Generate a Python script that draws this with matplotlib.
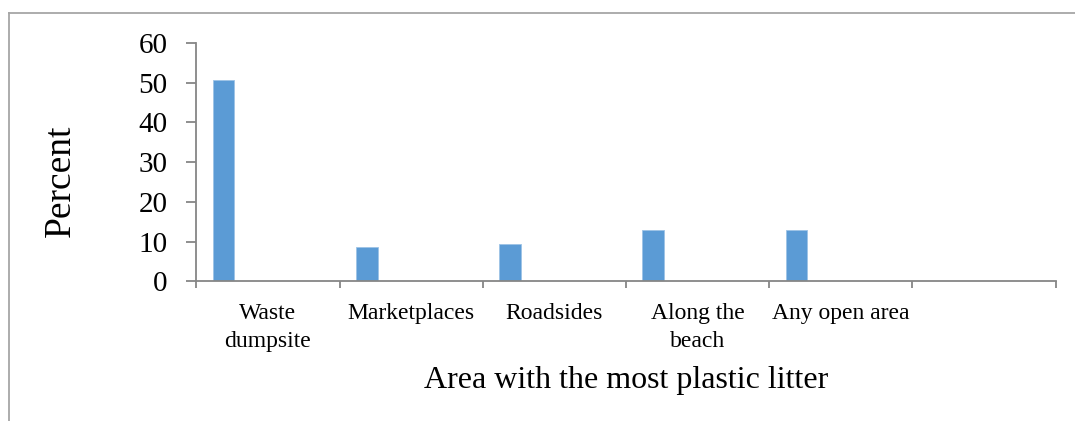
import matplotlib
matplotlib.use("Agg")
import matplotlib.pyplot as plt
from matplotlib.lines import Line2D
import numpy as np

categories = ["Waste\ndumpsite", "Marketplaces", "Roadsides", "Along the\nbeach", "Any open area"]
values = [50.7, 8.6, 9.3, 12.8, 12.8]
n_slots = 6
y_ticks = [0, 10, 20, 30, 40, 50, 60]

plt.rcParams['font.family'] = ['Liberation Serif', 'DejaVu Serif']

fig = plt.figure(figsize=(10.75, 4.21), dpi=100)
ax = fig.add_axes([196.3/1075, 1 - 281.3/421, (1055.7-196.3)/1075, (281.3-43)/421])

x = np.arange(len(categories))
bar_w = 0.151
ax.bar(x + 0.115, values, width=bar_w, align='edge', color='#5B9BD5',
       edgecolor='#9DC3E6', linewidth=0.6)

ax.set_xlim(0, n_slots)
ax.set_ylim(0, 60)
ax.set_yticks(y_ticks)
ax.set_xticks(np.arange(n_slots + 1))
ax.set_xticklabels([])
ax.set_xticks(x + 0.5, minor=True)
ax.set_xticklabels(categories, minor=True, fontsize=17, linespacing=1.42)

spine_c = '#868686'
for s in ['top', 'right']:
    ax.spines[s].set_visible(False)
for s in ['left', 'bottom']:
    ax.spines[s].set_color(spine_c)
    ax.spines[s].set_linewidth(1.3)

ax.tick_params(axis='y', direction='out', length=7.2, width=1.3, color=spine_c,
               labelsize=21, pad=13.5)
ax.tick_params(axis='x', which='major', direction='out', length=5, width=1.3, color=spine_c)
ax.tick_params(axis='x', which='minor', length=0, pad=15.5)

ax.set_ylabel("Percent", fontsize=27, ha='center', va='center')
ax.yaxis.set_label_coords((61 - 196.3)/859.4, (281.3 - 181)/238.3)
ax.set_xlabel("Area with the most plastic litter", fontsize=23, ha='center', va='baseline')
ax.xaxis.set_label_coords(0.5, (281.3 - 388)/238.3)

# outer chart frame (top and left edges visible)
fc = '#A6A6A6'
fig.add_artist(Line2D([9.3/1075, 1], [1 - 12.7/421, 1 - 12.7/421], color=fc, lw=1.3,
                      transform=fig.transFigure))
fig.add_artist(Line2D([9.3/1075, 9.3/1075], [0, 1 - 12.7/421], color=fc, lw=1.3,
                      transform=fig.transFigure))

fig.savefig("out.png", dpi=100)
